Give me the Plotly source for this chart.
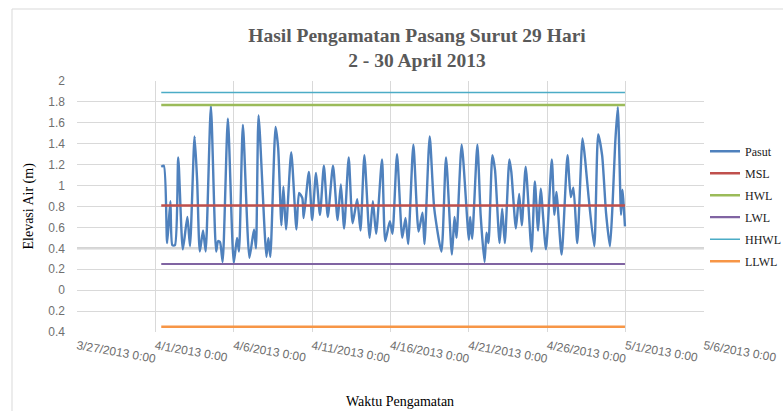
import pandas as pd
import plotly.graph_objects as go

# ---------------- data ----------------
# hours after 2013-04-01 00:00 and observed water elevation (m), turning points
pasut_jam = [9, 13, 18, 23, 26, 30, 35, 42, 49, 53, 60, 64, 68, 73, 77, 85, 93, 96, 99, 103,
             111, 120, 125, 128, 134, 144, 151, 154, 158, 170, 173, 176, 184, 188, 193, 196,
             200, 208, 216, 220, 225, 227, 235, 240, 246, 252, 258, 264, 272, 279, 284, 289,
             296, 302, 309, 314, 320, 328, 333, 338, 347, 352, 359, 363, 370, 378, 383, 387,
             395, 403, 409, 412, 420, 427, 438, 445, 454, 458, 461, 469, 480, 482, 485, 493,
             498, 504, 507, 510, 516, 520, 527, 531, 535, 542, 545, 552, 557, 561, 567, 576,
             581, 586, 590, 598, 607, 611, 614, 622, 631, 636, 640, 646, 654, 658, 663, 672,
             678, 684, 690, 696, 700, 704, 708, 713, 715, 719]
pasut_elev = [1.18, 1.19, 0.45, 0.85, 0.43, 0.43, 1.27, 0.39, 0.70, 0.42, 1.47, 1.04, 0.37, 0.57,
              0.37, 1.76, 0.37, 0.47, 0.46, 0.27, 1.64, 0.26, 0.50, 0.37, 1.58, 0.31, 0.58, 0.40,
              1.67, 0.32, 0.50, 0.32, 1.56, 1.36, 0.62, 0.99, 0.58, 1.32, 0.58, 0.93, 0.88, 0.69,
              1.13, 0.67, 1.12, 0.72, 1.19, 0.70, 1.19, 0.67, 1.01, 0.59, 1.27, 0.64, 0.87, 0.57,
              1.29, 0.50, 0.85, 0.54, 1.25, 0.47, 0.66, 0.54, 1.30, 0.50, 0.69, 0.44, 1.39, 0.56,
              0.74, 0.44, 1.47, 0.78, 0.37, 1.27, 0.34, 0.70, 0.50, 1.39, 0.48, 0.70, 0.49, 1.39,
              0.72, 0.27, 0.55, 0.45, 1.29, 1.15, 0.45, 0.78, 0.45, 1.25, 1.13, 0.59, 0.92, 0.62,
              1.18, 0.37, 1.04, 0.57, 0.97, 0.39, 1.25, 0.72, 0.94, 0.34, 1.29, 0.89, 0.98, 0.45,
              1.45, 1.25, 0.91, 0.42, 1.49, 1.29, 0.74, 0.42, 0.82, 1.40, 1.75, 0.72, 0.96, 0.61]

ref_names = ["MSL", "HWL", "LWL", "HHWL", "LLWL"]
ref_values = [0.81, 1.77, 0.25, 1.89, -0.35]

y_tickvals = [2, 1.8, 1.6, 1.4, 1.2, 1, 0.8, 0.6, 0.4, 0.2, 0, -0.2, -0.4]
y_ticktext = ["2", "1.8", "1.6", "1.4", "1.2", "1", "0.8", "0.6", "0.4", "0.2", "0", "0.2", "0.4"]

x_tickvals = ["2013-03-27", "2013-04-01", "2013-04-06", "2013-04-11", "2013-04-16",
              "2013-04-21", "2013-04-26", "2013-05-01", "2013-05-06"]
x_ticktext = ["3/27/2013 0:00", "4/1/2013 0:00", "4/6/2013 0:00", "4/11/2013 0:00",
              "4/16/2013 0:00", "4/21/2013 0:00", "4/26/2013 0:00", "5/1/2013 0:00",
              "5/6/2013 0:00"]

# ---------------- figure ----------------
base = pd.Timestamp("2013-04-01 00:00")
t = [base + pd.Timedelta(hours=h) for h in pasut_jam]

colors = {"Pasut": "#4f81bd", "MSL": "#c0504d", "HWL": "#9bbb59",
          "LWL": "#8064a2", "HHWL": "#4bacc6", "LLWL": "#f79646"}
widths = {"Pasut": 2.4, "MSL": 2.6, "HWL": 2.6, "LWL": 2.2, "HHWL": 1.6, "LLWL": 2.6}

fig = go.Figure()
fig.add_trace(go.Scatter(x=t, y=pasut_elev, mode="lines", name="Pasut",
                         legendgroup="Pasut",
                         line=dict(color=colors["Pasut"], width=widths["Pasut"],
                                   shape="spline", smoothing=0.6)))
for n, v in zip(ref_names, ref_values):
    fig.add_trace(go.Scatter(x=[t[0], t[-1]], y=[v, v], mode="lines", name=n,
                             legendgroup=n,
                             line=dict(color=colors[n], width=widths[n])))

grid = "#d9d9d9"
tick_font = dict(family="Liberation Sans, Arial, sans-serif", size=12, color="#6f6f6f")
serif = "Liberation Serif, Times New Roman, serif"

W, H = 783, 411
PL, PT, PW, PH = 77, 81, 627, 251   # plot area in pixels


def px(xp):
    return (xp - PL) / PW


def py(yp):
    return (PT + PH - yp) / PH


fig.update_layout(
    width=W, height=H,
    margin=dict(l=PL, r=W - PL - PW, t=PT, b=H - PT - PH, autoexpand=False),
    paper_bgcolor="white", plot_bgcolor="white",
    showlegend=True,
    legend=dict(x=px(705), xanchor="left", y=0.778, yanchor="top",
                font=dict(family=serif, size=12, color="#1a1a1a"),
                tracegroupgap=3, bgcolor="rgba(0,0,0,0)"),
    title=dict(text="<b>Hasil Pengamatan Pasang Surut 29 Hari<br>2 - 30 April 2013</b>",
               x=417 / W, xanchor="center", xref="container",
               y=0.8985, yanchor="middle", yref="container", automargin=False,
               font=dict(family=serif, size=19.5, color="#595959")),
    xaxis=dict(type="date", range=["2013-03-27", "2013-05-06"],
               tickmode="array", tickvals=x_tickvals, ticktext=x_ticktext,
               tickangle=10, tickfont=tick_font, automargin=False, ticklabelstandoff=4,
               showgrid=True, gridcolor=grid, gridwidth=1,
               showline=False, zeroline=False, ticks=""),
    yaxis=dict(range=[-0.4, 2], tickmode="array", tickvals=y_tickvals, ticktext=y_ticktext,
               tickfont=tick_font, ticklabelstandoff=11, automargin=False,
               showgrid=True, gridcolor=grid, gridwidth=1,
               showline=False, zeroline=False, ticks=""),
    annotations=[
        dict(text="Elevasi Air (m)", xref="paper", yref="paper",
             x=px(28), y=0.5, xanchor="center", yanchor="middle",
             textangle=-90, showarrow=False,
             font=dict(family=serif, size=14, color="#000000")),
        dict(text="Waktu Pengamatan", xref="paper", yref="paper",
             x=px(400), y=py(401), xanchor="center", yanchor="middle", showarrow=False,
             font=dict(family=serif, size=14, color="#000000")),
    ],
    shapes=[
        dict(type="line", xref="paper", yref="y", x0=0, x1=1, y0=0.4, y1=0.4,
             line=dict(color="#d4d4d4", width=2.5), layer="below"),
        dict(type="line", xref="paper", yref="paper",
             x0=px(12), x1=px(12), y0=py(420), y1=py(9),
             line=dict(color=grid, width=1)),
        dict(type="line", xref="paper", yref="paper",
             x0=px(12), x1=px(790), y0=py(9), y1=py(9),
             line=dict(color=grid, width=1)),
    ],
)

# remove the browser's default 8px body margin so the figure fills the window
fig.write_html("out.html",
               config={"displayModeBar": False},
               post_script="document.body.style.margin='0';"
                           "document.body.style.overflow='hidden';")
